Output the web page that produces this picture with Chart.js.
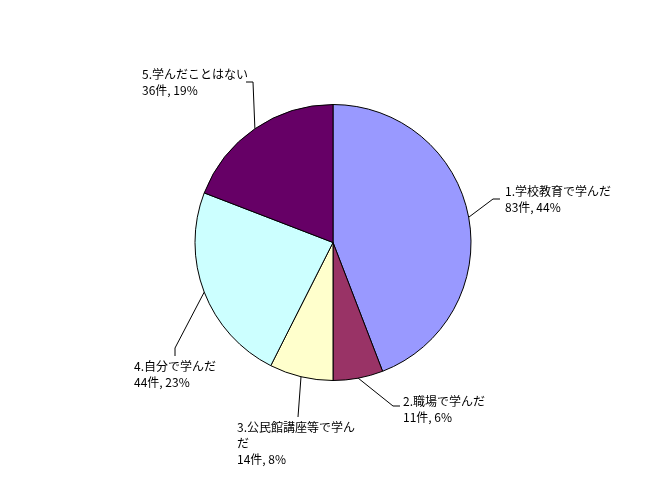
<!DOCTYPE html>
<html>
<head>
<meta charset="utf-8">
<script src="https://cdn.jsdelivr.net/npm/chart.js@4"></script>
<style>
html,body{margin:0;padding:0;background:#fff;}
canvas{display:block;}
</style>
</head>
<body>
<canvas id="c" width="669" height="487"></canvas>
<script>
const categories = ["1.学校教育で学んだ", "2.職場で学んだ", "3.公民館講座等で学んだ", "4.自分で学んだ", "5.学んだことはない"];
const counts = [83, 11, 14, 44, 36];
const percentLabels = ["44%", "6%", "8%", "23%", "19%"];
const colors = ["#9999FF", "#993366", "#FFFFCC", "#CCFFFF", "#660066"];

// label layout: leader path points (after the slice edge point) and text origin
const labelLayout = [
  {path: [[493, 199], [500, 199]], text: [505, 191], lines: ["1.学校教育で学んだ", "83件, 44%"]},
  {path: [[393, 406], [400, 406]], text: [403, 401], lines: ["2.職場で学んだ", "11件, 6%"]},
  {path: [[298, 417]], text: [237, 427], lines: ["3.公民館講座等で学ん", "だ", "14件, 8%"]},
  {path: [[175, 348], [175, 356]], text: [134, 366], lines: ["4.自分で学んだ", "44件, 23%"]},
  {path: [[253, 82], [246, 82]], text: [142, 74], lines: ["5.学んだことはない", "36件, 19%"]}
];

const leaderPlugin = {
  id: 'leaders',
  afterDatasetsDraw(chart) {
    const ctx = chart.ctx;
    const meta = chart.getDatasetMeta(0);
    ctx.save();
    ctx.strokeStyle = '#000';
    ctx.lineWidth = 1;
    ctx.fillStyle = '#000';
    ctx.font = '12px "Noto Sans CJK JP", sans-serif';
    ctx.textBaseline = 'middle';
    ctx.textAlign = 'left';
    meta.data.forEach((arc, i) => {
      const p = arc.getProps(['x', 'y', 'startAngle', 'endAngle', 'outerRadius'], true);
      const mid = (p.startAngle + p.endAngle) / 2;
      const ex = p.x + Math.cos(mid) * p.outerRadius;
      const ey = p.y + Math.sin(mid) * p.outerRadius;
      const lay = labelLayout[i];
      ctx.beginPath();
      ctx.moveTo(ex, ey);
      lay.path.forEach(pt => ctx.lineTo(pt[0], pt[1]));
      ctx.stroke();
      lay.lines.forEach((ln, k) => {
        ctx.fillText(ln, lay.text[0], lay.text[1] + k * 16);
      });
    });
    ctx.restore();
  }
};

new Chart(document.getElementById('c'), {
  type: 'pie',
  data: {
    labels: categories,
    datasets: [{
      data: counts,
      backgroundColor: colors,
      borderColor: '#000',
      borderWidth: 1,
      hoverOffset: 0
    }]
  },
  options: {
    responsive: false,
    animation: false,
    layout: {padding: {top: 104, bottom: 106, left: 0, right: 3}},
    plugins: {legend: {display: false}, tooltip: {enabled: false}}
  },
  plugins: [leaderPlugin]
});
</script>
</body>
</html>
